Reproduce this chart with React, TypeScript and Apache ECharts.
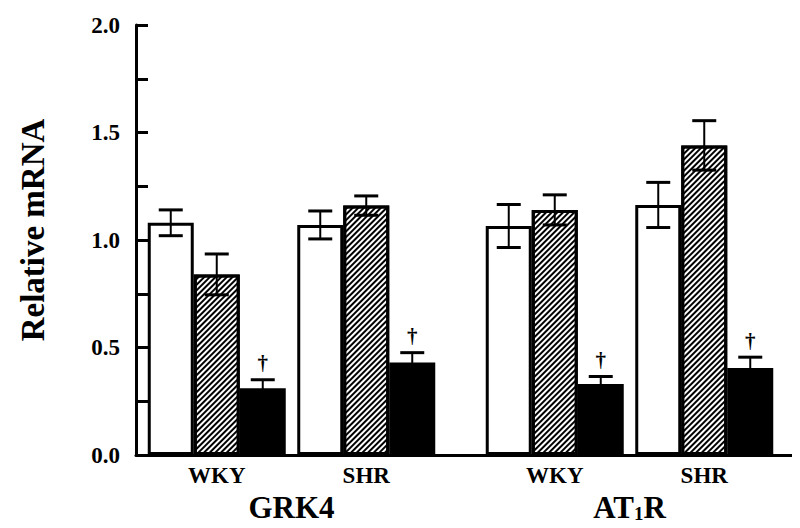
import React, { useEffect, useRef } from "react";
import * as echarts from "echarts";

// ---- data ----
const strains = ["WKY", "SHR"];
const genes = ["GRK4", "AT1R"];

const grk4Open = [1.08, 1.07];
const grk4OpenErr = [0.06, 0.065];
const grk4Hatched = [0.84, 1.16];
const grk4HatchedErr = [0.095, 0.045];
const grk4Solid = [0.31, 0.43];
const grk4SolidErr = [0.04, 0.046];

const at1rOpen = [1.065, 1.163];
const at1rOpenErr = [0.1, 0.105];
const at1rHatched = [1.14, 1.44];
const at1rHatchedErr = [0.07, 0.115];
const at1rSolid = [0.33, 0.405];
const at1rSolidErr = [0.035, 0.05];

const solidMarks = ["†", "†"];

const yTicks = [0, 0.5, 1.0, 1.5, 2.0];

// ---- layout / style ----
const FONT = "'Liberation Serif', 'Times New Roman', serif";
const BAR_W = 46;
const TOP = 17;
const BOTTOM = 81;

export default function App() {
  const ref = useRef<HTMLDivElement>(null);
  useEffect(() => {
    if (!ref.current) return;
    const chart = echarts.init(ref.current, null, { renderer: "svg" });

    const hatchDecal = {
      symbol: "rect",
      symbolSize: 1,
      dashArrayX: [1, 0],
      dashArrayY: [2, 2],
      rotation: -Math.PI / 4,
      color: "#000",
    };

    const barStyles = [
      { color: "#fff", borderColor: "#000", borderWidth: 3 },
      { color: "#fff", borderColor: "#000", borderWidth: 3, decal: hatchDecal },
      { color: "#000", borderColor: "#000", borderWidth: 3 },
    ];

    const geneSets = [
      {
        means: [grk4Open, grk4Hatched, grk4Solid],
        errs: [grk4OpenErr, grk4HatchedErr, grk4SolidErr],
      },
      {
        means: [at1rOpen, at1rHatched, at1rSolid],
        errs: [at1rOpenErr, at1rHatchedErr, at1rSolidErr],
      },
    ];
    const seriesNames = ["Open", "Hatched", "Solid"];

    const series: any[] = [];
    geneSets.forEach((g, gi) => {
      g.means.forEach((m, k) => {
        series.push({
          type: "bar",
          name: seriesNames[k],
          xAxisIndex: gi + 1,
          yAxisIndex: gi + 1,
          data: m,
          barWidth: BAR_W,
          barGap: "0%",
          itemStyle: barStyles[k],
          z: 2,
        });
      });
      const errData: any[] = [];
      g.means.forEach((m, k) => {
        m.forEach((v, i) => {
          errData.push([i, v, g.errs[k][i], k, k === 2 ? solidMarks[i] : ""]);
        });
      });
      series.push({
        type: "custom",
        xAxisIndex: gi + 1,
        yAxisIndex: gi + 1,
        z: 5,
        data: errData,
        renderItem: (params: any, api: any) => {
          const idx = api.value(0);
          const mean = api.value(1);
          const err = api.value(2);
          const k = api.value(3);
          const mark = errData[params.dataIndex][4];
          const c = api.coord([idx, mean]);
          const x = c[0] + (k - 1) * BAR_W;
          const yTop = api.coord([idx, mean + err])[1];
          const yBot = api.coord([idx, mean - err])[1];
          const half = 12;
          const children: any[] = [
            { type: "line", shape: { x1: x, y1: yTop, x2: x, y2: yBot }, style: { stroke: "#000", lineWidth: 2 } },
            { type: "line", shape: { x1: x - half, y1: yTop, x2: x + half, y2: yTop }, style: { stroke: "#000", lineWidth: 3 } },
            { type: "line", shape: { x1: x - half, y1: yBot, x2: x + half, y2: yBot }, style: { stroke: "#000", lineWidth: 3 } },
          ];
          if (mark) {
            children.push({
              type: "text",
              x: x,
              y: yTop - 6,
              style: {
                text: mark,
                fill: "#000",
                font: `bold 21px ${FONT}`,
                align: "center",
                verticalAlign: "bottom",
              },
            });
          }
          return { type: "group", children };
        },
      });
    });

    const barXAxis = (gi: number) => ({
      type: "category",
      gridIndex: gi,
      data: strains,
      axisLine: { show: false },
      axisTick: { show: false },
      axisLabel: { fontFamily: FONT, fontWeight: "bold", fontSize: 23, color: "#000", margin: 9 },
      name: gi === 1 ? genes[0] : "{a|AT}{s|1}{a|R}",
      nameLocation: "middle",
      nameGap: 36,
      nameTextStyle: {
        fontFamily: FONT,
        fontWeight: "bold",
        fontSize: 31,
        color: "#000",
        rich: {
          a: { fontFamily: FONT, fontWeight: "bold", fontSize: 31, color: "#000", lineHeight: 32 },
          s: { fontFamily: FONT, fontWeight: "bold", fontSize: 19, color: "#000", lineHeight: 12, verticalAlign: "bottom" },
        },
      },
    });

    const hiddenY = (gi: number) => ({
      type: "value",
      gridIndex: gi,
      min: 0,
      max: 2,
      show: false,
    });

    chart.setOption({
      animation: false,
      backgroundColor: "#fff",
      grid: [
        { left: 108, top: TOP, right: 10, bottom: BOTTOM },
        { left: 134, top: TOP, width: 299, bottom: BOTTOM },
        { left: 472, top: TOP, width: 299, bottom: BOTTOM },
      ],
      xAxis: [
        {
          type: "value",
          gridIndex: 0,
          min: 0,
          max: 1,
          axisLine: { show: true, onZero: false, lineStyle: { color: "#000", width: 3 } },
          axisTick: { show: false },
          axisLabel: { show: false },
          splitLine: { show: false },
        },
        barXAxis(1),
        barXAxis(2),
      ],
      yAxis: [
        {
          type: "value",
          gridIndex: 0,
          min: 0,
          max: 2,
          interval: 0.25,
          name: "Relative mRNA",
          nameLocation: "middle",
          nameGap: 87,
          nameTextStyle: { fontFamily: FONT, fontWeight: "bold", fontSize: 33, color: "#000", padding: [0, 0, 0, 20] },
          axisLine: { show: true, lineStyle: { color: "#000", width: 3 } },
          axisTick: { show: true, inside: true, length: 12, lineStyle: { color: "#000", width: 3 } },
          axisLabel: {
            fontFamily: FONT,
            fontWeight: "bold",
            fontSize: 23,
            color: "#000",
            margin: 16,
            formatter: (v: number) => {
              const t = yTicks.find((y) => Math.abs(y - v) < 1e-6);
              return t === undefined ? "" : t.toFixed(1);
            },
          },
          splitLine: { show: false },
        },
        hiddenY(1),
        hiddenY(2),
      ],
      series,
    });
    return () => chart.dispose();
  }, []);
  return <div ref={ref} style={{ width: 800, height: 528 }} />;
}
